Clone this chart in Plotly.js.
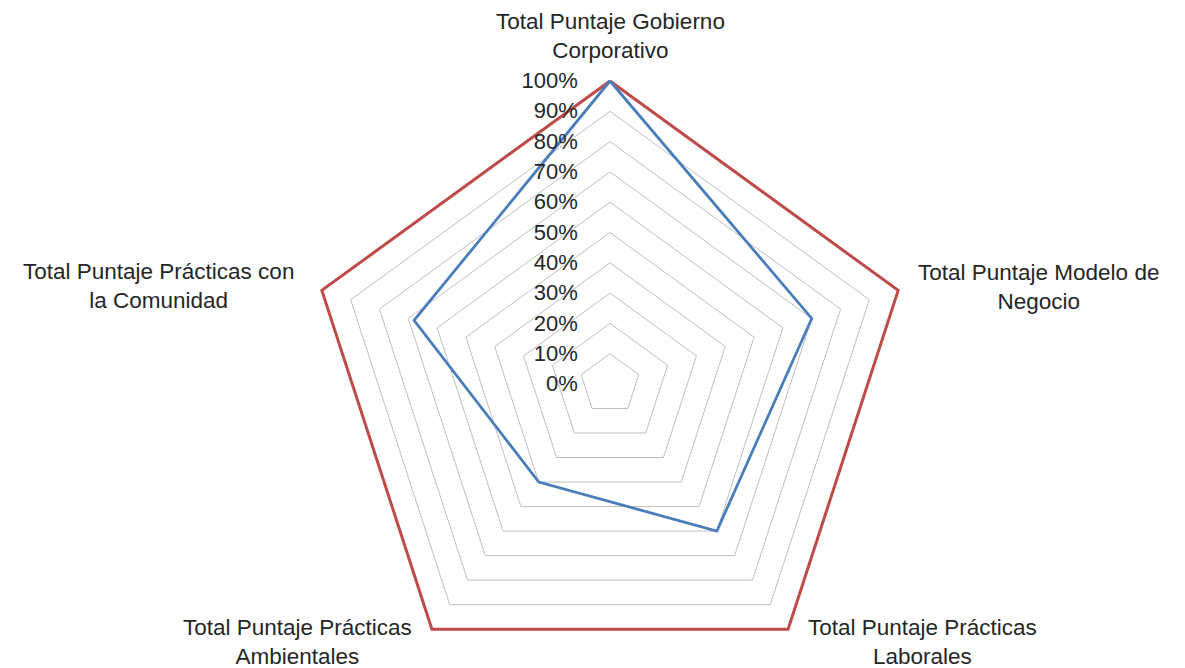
<!DOCTYPE html>
<html>
<head>
<meta charset="utf-8">
<script src="https://cdn.plot.ly/plotly-3.0.1.min.js"></script>
<style>
html,body{margin:0;padding:0;background:#fff;overflow:hidden;}
#chart{width:1185px;height:700px;}
</style>
</head>
<body>
<div id="chart"></div>
<script>
const categories = [
  "Total Puntaje Gobierno Corporativo",
  "Total Puntaje Modelo de Negocio",
  "Total Puntaje Prácticas Laborales",
  "Total Puntaje Prácticas Ambientales",
  "Total Puntaje Prácticas con la Comunidad"
];
const categoryLabels = [
  "Total Puntaje Gobierno<br>Corporativo",
  "Total Puntaje Modelo de<br>Negocio",
  "Total Puntaje Prácticas<br>Laborales",
  "Total Puntaje Prácticas<br>Ambientales",
  "Total Puntaje Prácticas con<br>la Comunidad"
];
const empresa = [1.00, 0.70, 0.60, 0.40, 0.68];
const maximo = [1.00, 1.00, 1.00, 1.00, 1.00];
const radialTicks = [0, 0.1, 0.2, 0.3, 0.4, 0.5, 0.6, 0.7, 0.8, 0.9, 1.0];
const radialTickText = ["0%", "10%", "20%", "30%", "40%", "50%", "60%", "70%", "80%", "90%", "100%"];

function closeLoop(a){ return a.concat([a[0]]); }

const H = 700;
const FONT = '"Liberation Sans", Arial, sans-serif';
// label centres (pixels from top-left) for each category, in category order
const labelPos = [[610, 36], [1038, 287], [922, 642], [297, 642], [158, 286]];

const annotations = categoryLabels.map((t, i) => ({
  text: t,
  xref: 'paper', yref: 'paper',
  x: labelPos[i][0] / 1185,
  y: 1 - labelPos[i][1] / H,
  xanchor: 'center', yanchor: 'middle',
  align: 'center',
  showarrow: false,
  font: {family: FONT, size: 22.5, color: '#262626'}
}));

const traces = [
  {
    type: 'scatterpolar',
    r: closeLoop(maximo),
    theta: closeLoop(categories),
    mode: 'lines',
    cliponaxis: false,
    line: {color: '#BE4B48', width: 3},
    name: 'Máximo',
    hoverinfo: 'skip'
  },
  {
    type: 'scatterpolar',
    r: closeLoop(empresa),
    theta: closeLoop(categories),
    mode: 'lines',
    cliponaxis: false,
    line: {color: '#4A7EBB', width: 2.8},
    name: 'Empresa'
  }
];

const RMAX = 1.012;
const RPX = 303 * RMAX;   // pixel radius of the full range
const CY = 384, CX = 610;
const layout = {
  width: 1185,
  height: H,
  margin: {l: 0, r: 0, t: 0, b: 0},
  paper_bgcolor: '#ffffff',
  plot_bgcolor: '#ffffff',
  showlegend: false,
  font: {family: FONT, size: 22, color: '#262626'},
  annotations: annotations,
  polar: {
    domain: {
      x: [(CX - RPX - 20) / 1185, (CX + RPX + 20) / 1185],
      y: [(H - CY - RPX) / H, (H - CY + RPX) / H]
    },
    gridshape: 'linear',
    bgcolor: '#ffffff',
    angularaxis: {
      rotation: 90,
      direction: 'clockwise',
      showgrid: false,
      showline: false,
      showticklabels: false,
      ticks: ''
    },
    radialaxis: {
      range: [0, RMAX],
      angle: 90,
      tickangle: 90,
      side: 'counterclockwise',
      tickvals: radialTicks,
      ticktext: radialTickText,
      showline: false,
      ticks: 'outside',
      ticklen: 24,
      tickcolor: 'rgba(0,0,0,0)',
      gridcolor: '#BFBFBF',
      gridwidth: 1,
      tickfont: {family: FONT, size: 22, color: '#262626'}
    }
  }
};

Plotly.newPlot('chart', traces, layout, {displayModeBar: false, staticPlot: true});
</script>
</body>
</html>
